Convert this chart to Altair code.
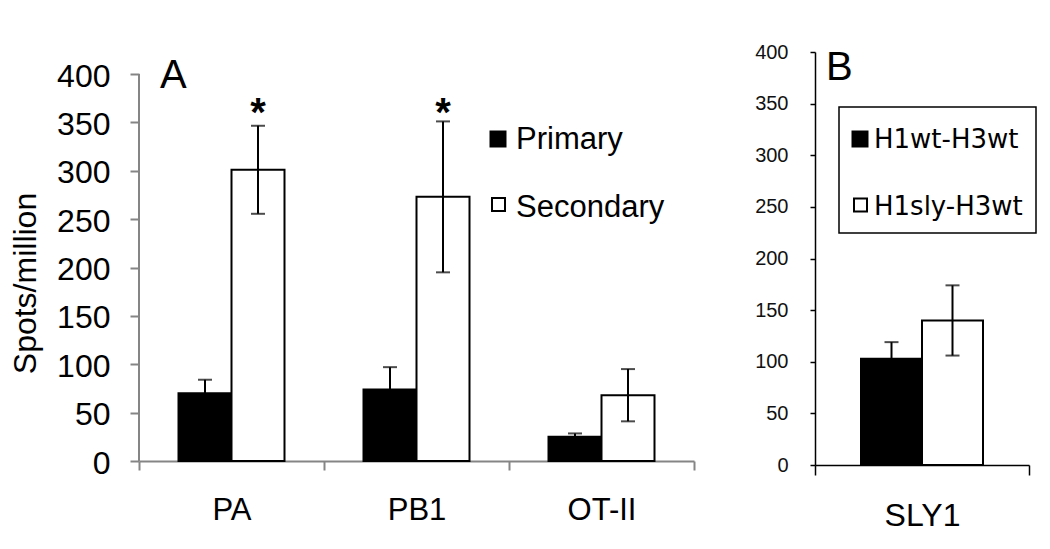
import altair as alt
import pandas as pd

# ---------------- data ----------------
CATEGORIES_A = ["PA", "PB1", "OT-II"]
SERIES_A = ["Primary", "Secondary"]
PRIMARY_MEAN = [70, 74, 25]
PRIMARY_ERR = [14, 23, 3.5]
SECONDARY_MEAN = [301, 273, 68]
SECONDARY_ERR = [45.5, 78, 27]
SIGNIFICANT = ["PA", "PB1"]

CATEGORIES_B = ["SLY1"]
SERIES_B = ["H1wt-H3wt", "H1sly-H3wt"]
B_MEAN = [103, 140]
B_ERR = [16, 34]

Y_TICKS = [0, 50, 100, 150, 200, 250, 300, 350, 400]
Y_TITLE = "Spots/million"

FONT = "Liberation Sans"
GRAY = "#858585"

# ---------------- tables ----------------
rows_a = []
for i, c in enumerate(CATEGORIES_A):
    rows_a.append({"category": c, "series": SERIES_A[0], "mean": PRIMARY_MEAN[i], "err": PRIMARY_ERR[i]})
    rows_a.append({"category": c, "series": SERIES_A[1], "mean": SECONDARY_MEAN[i], "err": SECONDARY_ERR[i]})
df_a = pd.DataFrame(rows_a)
df_sig = pd.DataFrame({"category": SIGNIFICANT, "series": [SERIES_A[1]] * len(SIGNIFICANT)})

rows_b = []
for i, s in enumerate(SERIES_B):
    rows_b.append({"category": CATEGORIES_B[0], "series": s, "mean": B_MEAN[i], "err": B_ERR[i]})
df_b = pd.DataFrame(rows_b)

one = alt.Data(values=[{}])


def series_layers(df, series, offset, width, x, y, color, cap_color):
    """Bar + error bar for one series, shifted inside the category band."""
    base = alt.Chart(df).transform_filter(alt.datum.series == series).transform_calculate(
        lo="datum.mean - datum.err", hi="datum.mean + datum.err")
    bar = base.mark_bar(stroke="black", strokeWidth=2, width=width, xOffset=offset).encode(
        x=x, y=y("mean:Q"), fill=color)
    err = base.mark_rule(color=cap_color, strokeWidth=2, xOffset=offset).encode(
        x=x, y=y("lo:Q"), y2="hi:Q")
    cap_hi = base.mark_tick(color=cap_color, size=14, thickness=2, xOffset=offset).encode(
        x=x, y=y("hi:Q"))
    cap_lo = base.mark_tick(color=cap_color, size=14, thickness=2, xOffset=offset).encode(
        x=x, y=y("lo:Q"))
    return [bar, err, cap_hi, cap_lo]


# ---------------- panel A ----------------
WA, HA = 555, 409
A_TOP = 400 * HA / 387.0
BAR_A = 53

xA = alt.X("category:N",
           scale=alt.Scale(type="band", domain=CATEGORIES_A, paddingInner=0, paddingOuter=0),
           axis=alt.Axis(title=None, labelAngle=0, labelFont=FONT, labelFontSize=31,
                         labelColor="black", labelPadding=25, tickBand="extent",
                         tickSize=9, tickWidth=2, tickColor=GRAY, domainColor=GRAY,
                         domainWidth=2, grid=False))
colA = alt.Color("series:N", scale=alt.Scale(domain=SERIES_A, range=["black", "white"]), legend=None)


def yA(field):
    return alt.Y(field, scale=alt.Scale(domain=[0, A_TOP], nice=False),
                 axis=alt.Axis(values=Y_TICKS, title=Y_TITLE, labelFont=FONT, labelFontSize=32,
                               labelColor="black", labelPadding=20, labelOffset=2,
                               tickSize=9, tickWidth=2, tickColor=GRAY,
                               domain=False, grid=False,
                               titleFont=FONT, titleFontSize=32, titleFontWeight="normal",
                               titleColor="black", titleAngle=270, titleX=-104, titleY=231,
                               titleAlign="center", titleBaseline="alphabetic"))


layersA = (series_layers(df_a, SERIES_A[0], -BAR_A / 2, BAR_A, xA, yA, colA, "black")
           + series_layers(df_a, SERIES_A[1], BAR_A / 2, BAR_A, xA, yA, colA, "black"))

yAxisLineA = alt.Chart(one).mark_rule(color=GRAY, strokeWidth=2).encode(
    x=alt.value(0),
    y=alt.datum(0, type="quantitative", scale=alt.Scale(domain=[0, A_TOP], nice=False)),
    y2=alt.datum(400))
starsA = alt.Chart(df_sig).mark_text(text="*", font=FONT, fontSize=40, fontWeight="bold",
                                     baseline="alphabetic", color="black",
                                     xOffset=BAR_A / 2).encode(
    x=xA, y=alt.value(74))

anchorA = alt.Chart(one).mark_rule(color="white", strokeWidth=1).encode(
    x=alt.value(-130), x2=alt.value(560), y=alt.value(-43))
labelA = alt.Chart(one).mark_text(text="A", font=FONT, fontSize=40, align="left",
                                  baseline="alphabetic", color="black").encode(
    x=alt.value(21), y=alt.value(36))
legSq1A = alt.Chart(one).mark_square(size=289, fill="black", opacity=1, strokeWidth=0).encode(
    x=alt.value(359), y=alt.value(87))
legSq2A = alt.Chart(one).mark_square(size=169, fill="white", stroke="black", strokeWidth=2,
                                     opacity=1).encode(
    x=alt.value(359.5), y=alt.value(152.5))
legTx1A = alt.Chart(one).mark_text(text=SERIES_A[0], font=FONT, fontSize=31, align="left",
                                   baseline="alphabetic", color="black").encode(
    x=alt.value(377), y=alt.value(97))
legTx2A = alt.Chart(one).mark_text(text=SERIES_A[1], font=FONT, fontSize=31, align="left",
                                   baseline="alphabetic", color="black").encode(
    x=alt.value(377), y=alt.value(165))

panelA = alt.layer(anchorA, *layersA, yAxisLineA, starsA, labelA,
                   legSq1A, legSq2A, legTx1A, legTx2A).properties(width=WA, height=HA)

# ---------------- panel B ----------------
WB, HB = 214, 413
BAR_B = 61

xB = alt.X("category:N",
           scale=alt.Scale(type="band", domain=CATEGORIES_B, paddingInner=0, paddingOuter=0),
           axis=alt.Axis(title=None, labelAngle=0, labelFont=FONT, labelFontSize=32,
                         labelColor="black", labelPadding=25, tickBand="extent",
                         tickSize=10, tickWidth=1.5, tickColor="black", domainColor="black",
                         domainWidth=1.5, grid=False))
colB = alt.Color("series:N", scale=alt.Scale(domain=SERIES_B, range=["black", "white"]), legend=None)


def yB(field):
    return alt.Y(field, scale=alt.Scale(domain=[0, 400], nice=False),
                 axis=alt.Axis(values=Y_TICKS, title=None, labelFont=FONT, labelFontSize=20,
                               labelColor="#111111", labelPadding=22,
                               tickSize=5, tickWidth=1.5, tickColor="black",
                               domainColor="black", domainWidth=1.5, grid=False))


layersB = (series_layers(df_b, SERIES_B[0], -BAR_B / 2, BAR_B, xB, yB, colB, "black")
           + series_layers(df_b, SERIES_B[1], BAR_B / 2, BAR_B, xB, yB, colB, "black"))

anchorB = alt.Chart(one).mark_rule(color="white", strokeWidth=1).encode(
    x=alt.value(-70), x2=alt.value(-60), y=alt.value(-43))
labelB = alt.Chart(one).mark_text(text="B", font=FONT, fontSize=40, align="left",
                                  baseline="alphabetic", color="black").encode(
    x=alt.value(11), y=alt.value(28))
boxB = alt.Chart(one).mark_rect(fill="white", stroke="black", strokeWidth=1.5).encode(
    x=alt.value(24), x2=alt.value(221), y=alt.value(55), y2=alt.value(181))
legSq1B = alt.Chart(one).mark_square(size=289, fill="black", opacity=1, strokeWidth=0).encode(
    x=alt.value(45), y=alt.value(87))
legSq2B = alt.Chart(one).mark_square(size=169, fill="white", stroke="black", strokeWidth=2,
                                     opacity=1).encode(
    x=alt.value(45.5), y=alt.value(153))
legTx1B = alt.Chart(one).mark_text(text=SERIES_B[0], font="DejaVu Sans", fontSize=26, align="left",
                                   baseline="alphabetic", color="black").encode(
    x=alt.value(59), y=alt.value(96))
legTx2B = alt.Chart(one).mark_text(text=SERIES_B[1], font="DejaVu Sans", fontSize=26, align="left",
                                   baseline="alphabetic", color="black").encode(
    x=alt.value(59), y=alt.value(163))

panelB = alt.layer(anchorB, *layersB, labelB, boxB,
                   legSq1B, legSq2B, legTx1B, legTx2B).properties(width=WB, height=HB)

chart = alt.hconcat(panelA, panelB, spacing=44).properties(padding=0).configure_view(stroke=None)

chart.save("out.html", embed_options={"renderer": "svg", "actions": False})
